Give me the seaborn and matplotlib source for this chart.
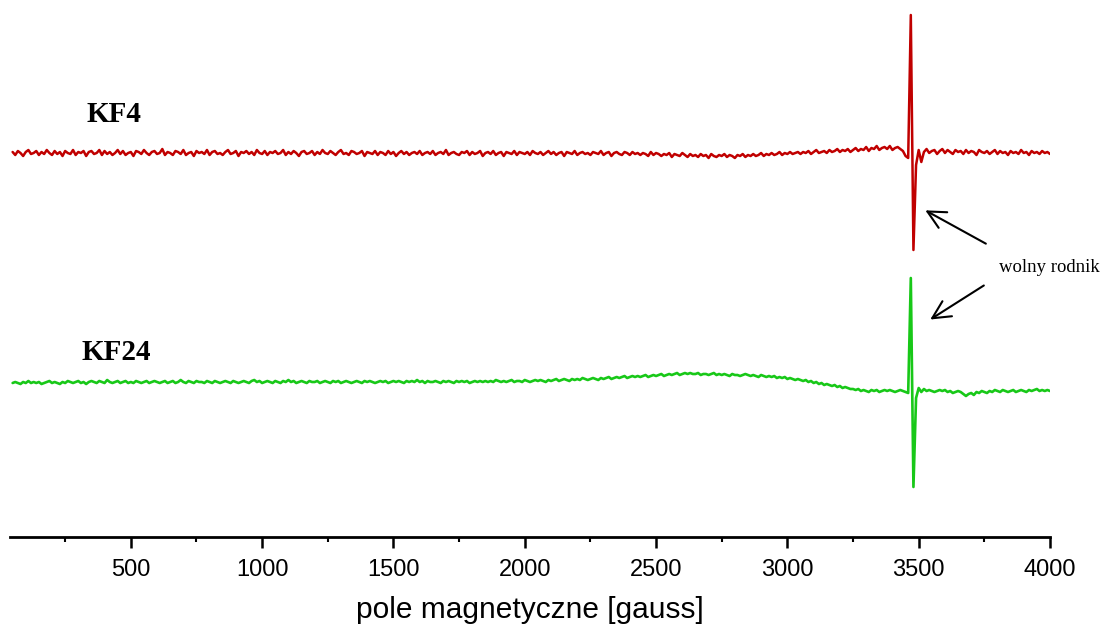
import numpy as np
import pandas as pd
import matplotlib
matplotlib.use("Agg")
import matplotlib.pyplot as plt
from matplotlib.ticker import MultipleLocator
import seaborn as sns

# Magnetic field sweep [gauss], 10 G steps
field = np.arange(50, 4001, 10)

# KF4 signal (arbitrary units, relative to its own baseline)
kf4 = [
    1, -2, 2, 0, -3, 1, 3, -1, 0, 2, -2, 1, -1, 3, 0, -2, 2, -1, 1, -3,
    2, 0, -1, 3, -2, 1, 0, 2, -3, 1, 2, -1, 0, 3, -2, 2, -1, 1, -2, 0,
    3, -1, 2, -2, 0, 1, -3, 2, 1, -1, 3, 0, -2, 1, 2, -1, 0, 4, -2, 1,
    0, -2, 2, 1, -1, 3, -2, 0, 1, -3, 2, 0, 1, -1, 3, -2, 1, 2, -1, 0,
    -2, 1, 3, -1, 0, 2, -3, 1, 0, 2, -1, 1, -2, 3, 0, -1, 2, -2, 1, 0,
    2, -1, 0, 3, -2, 1, -1, 2, 0, -3, 1, 2, -1, 0, 2, -2, 1, -1, 3, 0,
    -1, 2, 0, -2, 1, 3, -1, 0, -2, 2, 1, -1, 0, 2, -3, 1, 0, -1, 2, -2,
    1, 0, -2, 2, -1, 1, -3, 0, 2, -1, 1, -2, 0, 1, -1, 2, -2, 0, 1, -1,
    2, -2, 0, 1, -1, 3, -2, 0, 1, -1, -2, 1, 0, 2, -2, 1, -1, 0, 2, -3,
    0, 1, -1, 2, -2, 0, 1, -3, 1, 0, -1, 2, -2, 1, 0, -1, 1, -2, 2, 0,
    -1, 1, -2, 0, 2, -1, 1, -2, 0, 1, -3, 1, 0, -1, 2, -2, 0, 1, -1, 0,
    -2, 1, 0, -1, 2, -2, 0, 1, -3, 0, 1, -1, -2, 1, 0, -2, 1, -1, 0, -2,
    0, -1, -3, 1, -2, 0, -1, -3, -1, -2, 0, -4, -1, -2, -3, 0, -2, -4, -1, -3,
    -2, -4, -1, -3, -2, -5, -1, -3, -4, -2, -3, -1, -4, -2, -3, -5, -2, -3, -1, -4,
    -2, -3, -1, -3, -2, 0, -3, -1, -2, 0, -2, -1, 1, -2, 0, -1, 1, -1, 0, 1,
    -1, 1, 0, 2, -1, 1, 3, 0, 1, 2, 0, 3, 1, 2, 4, 1, 3, 2, 4, 1,
    3, 5, 2, 4, 3, 6, 2, 5, 4, 7, 3, 5, 6, 4, 7, 3, 5, 6, 4, 2,
    -3, -5, 138, -97, -12, 3, -9, 1, 4, 0, 2, 3, -1, 2, 4, 0, 3, 1, -1, 3,
    1, 2, -1, 3, 0, 2, 1, -2, 3, 1, 0, 2, -1, 1, 3, -1, 2, 0, 1, -2,
    2, 0, 1, -1, 3, 0, 1, -2, 2, 0, 1, -1, 2, 0, 1, -1,
]

# KF24 signal (arbitrary units, relative to its own baseline)
kf24 = [
    -1, 0, -1, -2, 0, -1, 1, -1, 0, -1, 0, -2, -1, 0, 1, -1, 0, -1, -2, 0,
    -1, 1, 0, -1, 0, 1, -1, 0, -2, 0, 1, 0, -1, 1, 0, -1, 2, 0, -1, 0,
    1, -1, 0, 1, -1, 0, -1, 1, 0, -1, 0, 1, -1, 0, 1, 0, -1, 0, 1, -1,
    0, 1, -1, 0, 2, 0, -1, 1, 0, -1, 1, 0, 0, -1, 1, 0, -1, 1, 0, -1,
    0, 1, 0, -1, 1, 0, -1, 0, 1, 0, -1, 1, 2, 0, 1, -1, 0, 1, 0, -1,
    1, 0, -1, 1, 0, 2, 0, 1, -1, 0, 1, 0, -1, 1, 0, 0, 1, -1, 0, 1,
    0, -1, 1, 0, 1, -1, 0, 1, 0, -1, 0, 1, 0, -1, 1, 0, 1, 0, -1, 0,
    1, 0, 1, -1, 0, 1, 0, 1, 0, -1, 1, 0, 1, 0, 2, 0, 1, -1, 1, 0,
    0, 1, 0, -1, 1, 0, 1, 0, -1, 1, 0, 1, 0, 1, -1, 0, 1, 0, 1, 0,
    1, 0, 1, 0, 2, 1, 0, 1, 0, 1, 2, 0, 1, 1, 0, 2, 1, 0, 1, 2,
    1, 2, 1, 0, 2, 1, 2, 3, 1, 2, 3, 2, 1, 3, 2, 3, 2, 4, 3, 2,
    3, 4, 3, 2, 4, 3, 4, 5, 3, 4, 5, 4, 5, 6, 4, 5, 6, 5, 6, 5,
    6, 7, 5, 6, 7, 6, 7, 8, 6, 7, 8, 7, 8, 9, 7, 8, 9, 8, 9, 8,
    8, 9, 7, 8, 8, 7, 8, 9, 7, 8, 7, 8, 7, 6, 8, 7, 7, 6, 7, 8,
    7, 6, 7, 6, 5, 7, 6, 5, 6, 5, 6, 4, 5, 4, 5, 3, 4, 3, 2, 3,
    2, 1, 2, 0, 1, -1, 0, -2, -1, -3, -2, -3, -4, -3, -5, -4, -6, -5, -6, -7,
    -7, -8, -7, -9, -8, -9, -10, -8, -9, -8, -10, -9, -8, -9, -8, -9, -10, -9, -8, -9,
    -10, -11, 104, -105, -16, -6, -10, -7, -9, -8, -9, -10, -9, -8, -9, -8, -10, -9, -11, -10,
    -9, -10, -12, -14, -12, -11, -13, -10, -11, -9, -10, -11, -9, -10, -8, -9, -10, -8, -9, -10,
    -9, -8, -10, -9, -8, -9, -10, -8, -9, -8, -7, -9, -8, -9, -8, -9,
]

sample_names = ["KF4", "KF24"]
kf4_offset = 384
kf24_offset = 155

sns.set_style("white")
plt.rcParams["font.family"] = ["Liberation Sans", "DejaVu Sans"]
plt.rcParams["text.color"] = "black"
plt.rcParams["axes.labelcolor"] = "black"
plt.rcParams["xtick.color"] = "black"

fig = plt.figure(figsize=(11.10, 6.24), dpi=100)
ax = fig.add_axes([10 / 1110, 87 / 624, 1040 / 1110, 532 / 624])

df = pd.DataFrame({
    "field": np.concatenate([field, field]),
    "signal": np.concatenate([np.array(kf4) + kf4_offset,
                              np.array(kf24) + kf24_offset]),
    "sample": [sample_names[0]] * len(field) + [sample_names[1]] * len(field),
})

sns.lineplot(data=df[df["sample"] == "KF4"], x="field", y="signal",
             color="#c00000", linewidth=1.8, ax=ax, estimator=None)
sns.lineplot(data=df[df["sample"] == "KF24"], x="field", y="signal",
             color="#18c818", linewidth=1.9, ax=ax, estimator=None)

ax.set_xlim(40, 4000)
ax.set_ylim(0, 532)

for side in ["left", "right", "top"]:
    ax.spines[side].set_visible(False)
ax.spines["bottom"].set_linewidth(2.0)
ax.spines["bottom"].set_color("black")

ax.xaxis.set_major_locator(MultipleLocator(500))
ax.xaxis.set_minor_locator(MultipleLocator(250))
ax.set_xticks([500, 1000, 1500, 2000, 2500, 3000, 3500, 4000])
ax.tick_params(axis="x", which="major", direction="out", length=8, width=1.8,
               color="black", labelcolor="black", labelsize=17, pad=8,
               bottom=True)
ax.tick_params(axis="x", which="minor", direction="out", length=3.5, width=1.5,
               color="black", bottom=True)
ax.set_yticks([])
ax.set_xlabel("pole magnetyczne [gauss]", fontsize=21.5, labelpad=11,
              color="black")
ax.set_ylabel("")

serif = ["Liberation Serif", "DejaVu Serif"]
ax.text(435, 422, "KF4", family=serif, fontweight="bold", fontsize=21,
        ha="center", va="center", color="black")
ax.text(443, 185, "KF24", family=serif, fontweight="bold", fontsize=21,
        ha="center", va="center", color="black")
ax.text(3996, 270, "wolny rodnik", family=serif, fontsize=13.5,
        ha="center", va="center", clip_on=False, color="black")

arrow = dict(arrowstyle="->", color="black", lw=1.5, mutation_scale=32)
ax.annotate("", xy=(3516, 328), xytext=(3765, 292), arrowprops=arrow,
            annotation_clip=False)
ax.annotate("", xy=(3535, 216), xytext=(3757, 253), arrowprops=arrow,
            annotation_clip=False)

fig.savefig("out.png", dpi=100)
